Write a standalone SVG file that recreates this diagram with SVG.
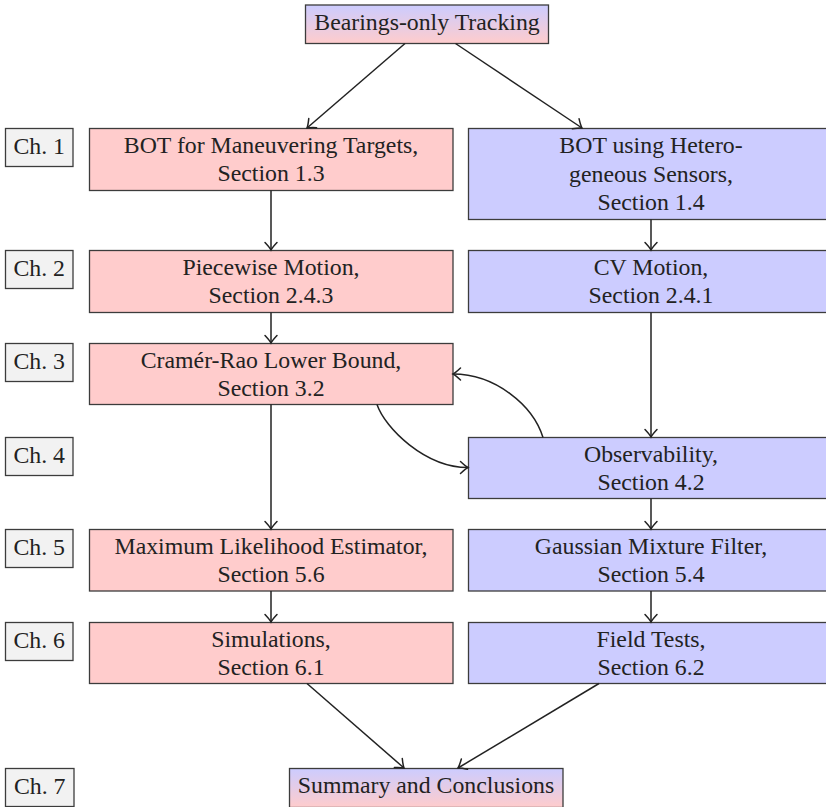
<svg xmlns="http://www.w3.org/2000/svg" width="826" height="807" viewBox="0 0 826 807">
<defs>
<linearGradient id="grad" x1="0" y1="0" x2="0" y2="1">
<stop offset="0" stop-color="#ccccff"/>
<stop offset="1" stop-color="#ffcccc"/>
</linearGradient>
<marker id="arr" markerUnits="userSpaceOnUse" markerWidth="16" markerHeight="16" viewBox="-10 -8 12 16" refX="0" refY="0" orient="auto">
<path d="M-7.5,-6 Q-2.5,-1.3 0,0 Q-2.5,1.3 -7.5,6" fill="none" stroke="#222" stroke-width="1.5" stroke-linecap="round"/>
</marker>
</defs>
<style>
rect{stroke:#3c3c3c;stroke-width:1.3}
.red{fill:#ffcccc}
.blue{fill:#ccccff}
.grad{fill:url(#grad)}
.ch{fill:#f2f2f2}
text{font-family:"Liberation Serif","Times New Roman",serif;font-size:23.8px;fill:#222;text-anchor:middle}
.c path,.c line{stroke:#222;stroke-width:1.5;fill:none;marker-end:url(#arr)}
</style>

<g id="top"><rect class="grad" x="305.5" y="5" width="243" height="38.5"/><text x="427" y="30">Bearings-only Tracking</text></g>

<g id="ch1"><rect class="ch" x="5.5" y="128.5" width="67.5" height="38"/><text x="39.2" y="154">Ch. 1</text></g>
<g id="ch2"><rect class="ch" x="5.5" y="250.5" width="67.5" height="38"/><text x="39.2" y="276">Ch. 2</text></g>
<g id="ch3"><rect class="ch" x="5.5" y="343.5" width="67.5" height="38"/><text x="39.2" y="369">Ch. 3</text></g>
<g id="ch4"><rect class="ch" x="5.5" y="437.5" width="67.5" height="38"/><text x="39.2" y="463">Ch. 4</text></g>
<g id="ch5"><rect class="ch" x="5.5" y="529.5" width="67.5" height="38"/><text x="39.2" y="555">Ch. 5</text></g>
<g id="ch6"><rect class="ch" x="5.5" y="622.5" width="67.5" height="38"/><text x="39.2" y="648">Ch. 6</text></g>
<g id="ch7"><rect class="ch" x="5.5" y="768.5" width="68.5" height="38"/><text x="39.7" y="794">Ch. 7</text></g>

<g id="bot-man"><rect class="red" x="89.5" y="128.5" width="363.5" height="62"/><text x="271" y="153">BOT for Maneuvering Targets,</text><text x="271" y="181">Section 1.3</text></g>
<g id="bot-het"><rect class="blue" x="468.5" y="128.5" width="364" height="91"/><text x="651" y="153">BOT using Hetero-</text><text x="651" y="181.5">geneous Sensors,</text><text x="651" y="210">Section 1.4</text></g>

<g id="piecewise"><rect class="red" x="89.5" y="250.5" width="363.5" height="62"/><text x="271" y="275">Piecewise Motion,</text><text x="271" y="303">Section 2.4.3</text></g>
<g id="cv"><rect class="blue" x="468.5" y="250.5" width="364" height="62"/><text x="651" y="275">CV Motion,</text><text x="651" y="303">Section 2.4.1</text></g>

<g id="crb"><rect class="red" x="89.5" y="343.5" width="363.5" height="61"/><text x="271" y="368">Cramér-Rao Lower Bound,</text><text x="271" y="396">Section 3.2</text></g>

<g id="obs"><rect class="blue" x="468.5" y="437.5" width="364" height="61"/><text x="651" y="462">Observability,</text><text x="651" y="490">Section 4.2</text></g>

<g id="mle"><rect class="red" x="89.5" y="529.5" width="363.5" height="61.5"/><text x="271" y="554">Maximum Likelihood Estimator,</text><text x="271" y="582">Section 5.6</text></g>
<g id="gmf"><rect class="blue" x="468.5" y="529.5" width="364" height="61.5"/><text x="651" y="554">Gaussian Mixture Filter,</text><text x="651" y="582">Section 5.4</text></g>

<g id="sim"><rect class="red" x="89.5" y="622.5" width="363.5" height="61"/><text x="271" y="647">Simulations,</text><text x="271" y="675">Section 6.1</text></g>
<g id="field"><rect class="blue" x="468.5" y="622.5" width="364" height="61"/><text x="651" y="647">Field Tests,</text><text x="651" y="675">Section 6.2</text></g>

<g id="summary"><rect class="grad" x="289.5" y="768.5" width="273.5" height="39"/><text x="426" y="793">Summary and Conclusions</text></g>

<g id="connectors" class="c">
<line x1="405" y1="43.5" x2="307" y2="128"/>
<line x1="455.5" y1="43.5" x2="582" y2="128"/>
<line x1="271" y1="190.5" x2="271" y2="250"/>
<line x1="651" y1="219.5" x2="651" y2="250"/>
<line x1="271" y1="312.5" x2="271" y2="343"/>
<line x1="651" y1="312.5" x2="651" y2="437"/>
<line x1="271" y1="404.5" x2="271" y2="529"/>
<line x1="651" y1="498.5" x2="651" y2="529"/>
<line x1="271" y1="591" x2="271" y2="622"/>
<line x1="651" y1="591" x2="651" y2="622"/>
<path d="M377,404.5 C385,428 425,467.5 468,467.5"/>
<path d="M543,437.5 C533,405 495,374 453,374"/>
<line x1="307" y1="683.5" x2="404" y2="768"/>
<line x1="599" y1="683.5" x2="458" y2="768"/>
</g>
</svg>
